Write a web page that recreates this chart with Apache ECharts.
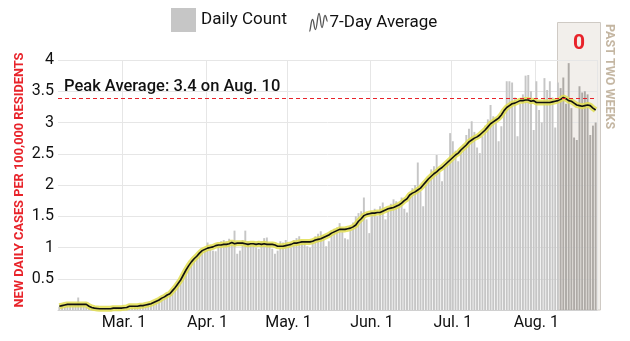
<!DOCTYPE html>
<html>
<head>
<meta charset="utf-8">
<script src="https://cdn.jsdelivr.net/npm/echarts@6/dist/echarts.min.js"></script>
<style>
html,body{margin:0;padding:0;background:#fff;}
#chart{width:630px;height:341px;}
</style>
</head>
<body>
<div id="chart"></div>
<script>
// ---- data ----
const startDate = '2020-02-06';
const monthTicks = ['2020-03-01','2020-04-01','2020-05-01','2020-06-01','2020-07-01','2020-08-01'];
const monthLabels = ['Mar. 1','Apr. 1','May. 1','Jun. 1','Jul. 1','Aug. 1'];

// daily counts per 100k by month
const dailyFeb = [0.05,0.06,0.05,0.07,0.08,0.06,0.09,0.20,0.07,0.06,0.05,0.04,0.02,0.03,0.02,0.01,0.02,0.02,0.03,0.02,0.02,0.03,0.03,0.04];
const dailyMar = [0.03,0.05,0.06,0.07,0.05,0.06,0.08,0.08,0.09,0.10,0.12,0.14,0.16,0.18,0.20,0.22,0.25,0.29,0.33,0.38,0.44,0.50,0.58,0.66,0.72,0.78,0.84,0.88,0.92,0.95,0.98];
const dailyApr = [1.08,0.96,0.95,0.94,1.05,1.10,1.12,1.10,1.14,1.05,1.27,0.90,0.95,1.12,1.27,1.10,1.05,1.08,1.00,0.98,1.10,1.15,1.16,1.05,0.98,0.90,0.95,1.10,1.08,1.12];
const dailyMay = [1.05,1.00,1.12,1.15,1.18,1.10,1.08,1.02,1.00,1.12,1.18,1.22,1.26,1.20,1.02,1.10,1.28,1.30,1.32,1.39,1.25,1.15,1.13,1.35,1.40,1.50,1.55,1.58,1.80,1.45,1.23];
const dailyJun = [1.55,1.62,1.50,1.66,1.72,1.45,1.58,1.70,1.77,1.74,1.68,1.80,1.62,1.56,1.85,1.95,2.00,2.36,1.90,1.66,2.00,2.10,2.25,2.30,2.48,2.20,2.06,2.30,2.40,2.83];
const dailyJul = [2.70,2.55,2.38,2.60,2.65,2.80,2.90,3.02,2.85,2.60,2.51,2.78,2.95,3.05,3.28,3.10,3.00,2.70,2.94,3.20,3.66,3.66,3.64,3.40,2.78,3.30,3.45,3.75,3.76,3.50,2.88];
const dailyAug = [3.66,3.20,3.00,3.71,3.52,3.66,3.40,2.92,3.64,3.55,3.72,3.30,3.95,3.23,2.76,2.72,3.58,3.48,3.50,3.45,2.80,2.95,3.00];

// 7-day averages by month
const avgFeb = [0.06,0.07,0.08,0.09,0.09,0.09,0.09,0.09,0.09,0.09,0.09,0.06,0.04,0.03,0.025,0.02,0.02,0.02,0.02,0.02,0.03,0.03,0.03,0.03];
const avgMar = [0.035,0.04,0.06,0.06,0.06,0.06,0.07,0.07,0.08,0.09,0.10,0.12,0.14,0.16,0.19,0.21,0.24,0.26,0.31,0.36,0.42,0.48,0.56,0.64,0.71,0.77,0.82,0.86,0.91,0.95,0.97];
const avgApr = [0.99,1.00,1.01,1.03,1.04,1.04,1.05,1.05,1.06,1.08,1.06,1.07,1.07,1.07,1.06,1.05,1.06,1.06,1.05,1.06,1.05,1.06,1.05,1.05,1.05,1.04,1.02,1.02,1.02,1.03];
const avgMay = [1.04,1.05,1.07,1.07,1.08,1.09,1.09,1.09,1.09,1.10,1.12,1.13,1.14,1.16,1.18,1.20,1.23,1.25,1.27,1.29,1.29,1.29,1.30,1.31,1.33,1.36,1.42,1.46,1.51,1.53,1.54];
const avgJun = [1.55,1.55,1.56,1.56,1.58,1.60,1.62,1.63,1.64,1.66,1.68,1.71,1.75,1.78,1.84,1.87,1.89,1.92,1.95,2.00,2.05,2.10,2.14,2.18,2.21,2.25,2.28,2.32,2.36,2.40];
const avgJul = [2.44,2.48,2.51,2.56,2.60,2.64,2.69,2.72,2.75,2.77,2.80,2.84,2.88,2.93,2.98,3.01,3.04,3.07,3.12,3.19,3.24,3.27,3.30,3.31,3.33,3.35,3.35,3.36,3.36,3.34,3.35];
const avgAug = [3.32,3.32,3.32,3.32,3.32,3.32,3.33,3.34,3.35,3.37,3.40,3.38,3.35,3.34,3.31,3.28,3.27,3.26,3.27,3.28,3.27,3.23,3.20,3.16];

const peakValue = 3.4;
const peakLabel = 'Peak Average: 3.4 on Aug. 10';
const pastDays = 14;
const pastCount = '0';
const yAxisName = 'NEW DAILY CASES PER 100,000 RESIDENTS';
const yTicks = [0, 0.5, 1, 1.5, 2, 2.5, 3, 3.5, 4];

// ---- build ----
const daily = [].concat(dailyFeb, dailyMar, dailyApr, dailyMay, dailyJun, dailyJul, dailyAug);
const avg = [].concat(avgFeb, avgMar, avgApr, avgMay, avgJun, avgJul, avgAug).slice(0, daily.length);
const N = daily.length;
const categories = [];
{
  const d0 = new Date(startDate + 'T00:00:00Z');
  for (let i = 0; i < N; i++) {
    const d = new Date(d0.getTime() + i * 86400000);
    categories.push(d.toISOString().slice(0, 10));
  }
}
const isMonthTick = (idx, val) => monthTicks.indexOf(val) >= 0;

const FONT = 'Roboto, "Helvetica Neue", Arial, sans-serif';
const RED = '#e8232a';
const BAR = '#c6c6c6';
const GRID = {left: 58, right: 33, top: 60, bottom: 31};

const chart = echarts.init(document.getElementById('chart'), null, {renderer: 'canvas'});
chart.setOption({
  animation: false,
  textStyle: {fontFamily: FONT},
  grid: GRID,
  legend: [
    {
      data: [{name: 'Daily Count', icon: 'rect', itemStyle: {color: BAR}}],
      left: 171, top: 8, padding: 0, itemWidth: 25, itemHeight: 24, itemGap: 0,
      textStyle: {fontSize: 17, color: '#111', fontFamily: FONT}, selectedMode: false
    },
    {
      data: [{name: '7-Day Average', icon: 'path://M0,20 C1,20 1.5,8 3,8 C4.5,8 4.5,18 6,18 C7.5,18 8,2 9.5,2 C11,2 11,16 12.5,16 C14,16 14,4 15.5,4 C17,4 17,10 18,10',
        itemStyle: {color: 'none', borderColor: '#555', borderWidth: 1.3}}],
      left: 307, top: 11, padding: 0, itemWidth: 18, itemHeight: 19, itemGap: 0,
      textStyle: {fontSize: 17, color: '#111', fontFamily: FONT, padding: [0, 0, 0, -3]}, selectedMode: false
    }
  ],
  xAxis: {
    type: 'category', data: categories, boundaryGap: true,
    axisLine: {show: true, lineStyle: {color: '#d0d0d0'}},
    axisTick: {show: false},
    axisLabel: {interval: isMonthTick, formatter: v => monthLabels[monthTicks.indexOf(v)] || '',
      fontSize: 16, color: '#111', margin: 5, fontFamily: FONT},
    splitLine: {show: true, interval: isMonthTick, lineStyle: {color: '#e6e6e6', width: 1}}
  },
  yAxis: {
    type: 'value', min: yTicks[0], max: yTicks[yTicks.length - 1], interval: 0.5,
    axisLine: {show: false}, axisTick: {show: false},
    axisLabel: {formatter: v => (v === 0 ? '' : String(v)), fontSize: 16, color: '#111', margin: 4, fontFamily: FONT},
    splitLine: {lineStyle: {color: '#e6e6e6', width: 1}}
  },
  series: [
    {
      name: 'Daily Count', type: 'bar', data: daily, barCategoryGap: '28%',
      itemStyle: {color: p => (p.dataIndex >= N - pastDays ? '#aeaaa6' : BAR)},
      z: 2
    },
    {
      name: '7-Day Average glow', type: 'line', data: avg, symbol: 'none', smooth: false,
      lineStyle: {color: 'rgba(226,222,80,0.85)', width: 6}, z: 3, silent: true
    },
    {
      name: '7-Day Average', type: 'line', data: avg, symbol: 'none', smooth: false,
      color: '#111',
      lineStyle: {color: '#111', width: 1.6}, z: 4
    }
  ]
});

// annotations: axis title, past-two-weeks panel and peak line
const gridRect = {x: GRID.left, w: 630 - GRID.left - GRID.right};
const bw = gridRect.w / N;
const cx = chart.convertToPixel({xAxisIndex: 0}, categories[N - pastDays]);
const y0 = chart.convertToPixel({yAxisIndex: 0}, 0);
const yTop = chart.convertToPixel({yAxisIndex: 0}, yTicks[yTicks.length - 1]);
const yPeak = Math.round(chart.convertToPixel({yAxisIndex: 0}, peakValue)) + 0.5;
const boxL = Math.round(cx - bw / 2) - 1.5;
const boxR = gridRect.x + gridRect.w + 3.5;
const boxTop = 22.5;
chart.setOption({
  graphic: [
    {type: 'rect', z: -10, silent: true,
      shape: {x: boxL, y: boxTop, width: boxR - boxL, height: y0 - boxTop},
      style: {fill: '#f2efeb', stroke: '#cfcac4', lineWidth: 1}},
    {type: 'line', z: 50, silent: true,
      shape: {x1: gridRect.x, y1: yPeak, x2: gridRect.x + gridRect.w, y2: yPeak},
      style: {stroke: RED, lineWidth: 1.2, lineDash: [4, 3]}},
    {type: 'text', z: 50, silent: true, x: gridRect.x + 6, y: yPeak - 3,
      style: {text: peakLabel, fill: '#111', font: '500 16.5px ' + FONT, textAlign: 'left', textVerticalAlign: 'bottom'}},
    {type: 'text', z: 10, silent: true, x: 19.5, y: (y0 + yTop) / 2 - 5, rotation: Math.PI / 2,
      style: {text: yAxisName, fill: RED, font: 'bold 12.8px ' + FONT, textAlign: 'center', textVerticalAlign: 'middle'}},
    {type: 'text', z: 10, silent: true, x: (boxL + boxR) / 2, y: 44,
      style: {text: pastCount, fill: RED, font: 'bold 21px ' + FONT, textAlign: 'center', textVerticalAlign: 'middle'}},
    {type: 'text', z: 10, silent: true, x: boxR + 9, y: 24, rotation: -Math.PI / 2,
      style: {text: 'PAST TWO WEEKS', fill: '#c4b6a2', font: 'bold 12.5px ' + FONT, textAlign: 'left', textVerticalAlign: 'middle'}}
  ]
});
</script>
</body>
</html>
